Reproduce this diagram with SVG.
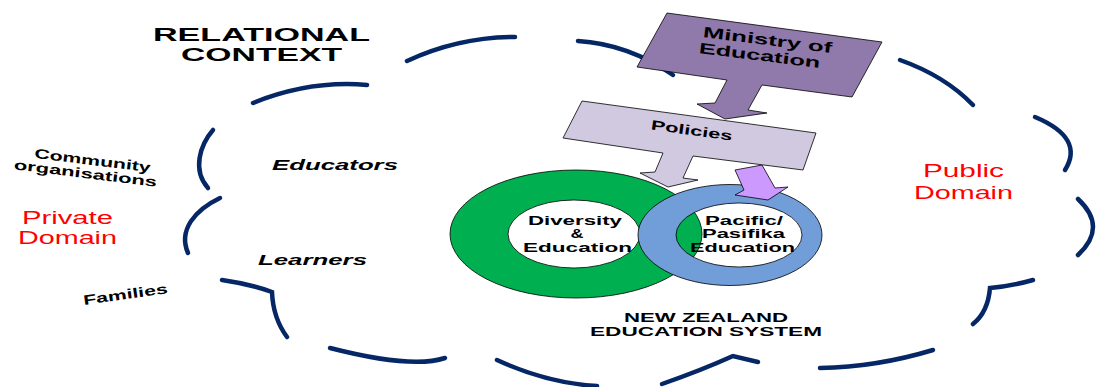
<svg xmlns="http://www.w3.org/2000/svg" width="1103" height="387" viewBox="0 0 1103 387">
<style>
.t{font-family:"Liberation Sans",Arial,sans-serif;font-weight:bold;fill:#000;text-anchor:middle}
.it{font-style:italic}
.red{font-weight:normal;fill:#ff0000}
.cl{fill:none;stroke:#062766;stroke-width:4.5;stroke-linecap:round;stroke-linejoin:miter}
.sh{stroke:#000;stroke-width:0.8}
</style>
<rect width="1103" height="387" fill="#fff"/>
<g id="cloud">
<path class="cl" d="M253,103 Q310,80 367,85"/>
<path class="cl" d="M407,61 Q459,37 515,37"/>
<path class="cl" d="M578,41 Q628,44 673,75"/>
<path class="cl" d="M900,60 Q945,76 973,105"/>
<path class="cl" d="M1035,117 Q1085,138 1065,170"/>
<path class="cl" d="M1078,199 Q1108,227 1078,255"/>
<path class="cl" d="M1033,280 Q1012,286 990,288 Q988,312 973,324"/>
<path class="cl" d="M933,350 Q877,367 820,368"/>
<path class="cl" d="M758,362 L733,356 Q702,370 662,384"/>
<path class="cl" d="M597,386 Q547,383 497,360"/>
<path class="cl" d="M445,358 Q412,369 330,348"/>
<path class="cl" d="M222,280 Q250,284 272,292 Q273,318 287,337"/>
<path class="cl" d="M220,198 C195,210 178,230 188,253"/>
<path class="cl" d="M213,130 C200,145 192,170 208,188"/>
</g>
<g id="title">
<text class="t" x="261.5" y="41" font-size="19" textLength="217" lengthAdjust="spacingAndGlyphs">RELATIONAL</text>
<text class="t" x="261.5" y="61" font-size="19" textLength="161" lengthAdjust="spacingAndGlyphs">CONTEXT</text>
</g>
<g id="educators"><text class="t it" x="335" y="170" font-size="14.5" textLength="126" lengthAdjust="spacingAndGlyphs">Educators</text></g>
<g id="learners"><text class="t it" x="312.5" y="265" font-size="14.5" textLength="109" lengthAdjust="spacingAndGlyphs">Learners</text></g>
<g id="private-domain">
<text class="t red" x="67.5" y="224" font-size="17.5" textLength="91" lengthAdjust="spacingAndGlyphs">Private</text>
<text class="t red" x="67.5" y="244" font-size="17.5" textLength="99" lengthAdjust="spacingAndGlyphs">Domain</text>
</g>
<g id="public-domain">
<text class="t red" x="963.5" y="177" font-size="17.5" textLength="81" lengthAdjust="spacingAndGlyphs">Public</text>
<text class="t red" x="963.5" y="199" font-size="17.5" textLength="99" lengthAdjust="spacingAndGlyphs">Domain</text>
</g>
<g id="community">
<text class="t" transform="translate(92,165) rotate(7)" font-size="13.5" textLength="117" lengthAdjust="spacingAndGlyphs">Community</text>
<text class="t" transform="translate(85,178) rotate(7)" font-size="13.5" textLength="144" lengthAdjust="spacingAndGlyphs">organisations</text>
</g>
<g id="families"><text class="t" transform="translate(126,299) rotate(-8)" font-size="13.5" textLength="85" lengthAdjust="spacingAndGlyphs">Families</text></g>
<g id="nz-system">
<text class="t" x="706" y="322" font-size="12.5" textLength="164" lengthAdjust="spacingAndGlyphs">NEW ZEALAND</text>
<text class="t" x="706" y="336" font-size="12.5" textLength="232" lengthAdjust="spacingAndGlyphs">EDUCATION SYSTEM</text>
</g>
<g id="diversity">
<path class="sh" fill="#00b050" fill-rule="evenodd" d="M450,234 A126,64 0 1 0 702,234 A126,64 0 1 0 450,234 Z M508,234 A66,34 0 1 1 640,234 A66,34 0 1 1 508,234 Z"/>
<text class="t" x="575" y="225" font-size="13" textLength="94" lengthAdjust="spacingAndGlyphs">Diversity</text>
<text class="t" x="577" y="238" font-size="13" textLength="13" lengthAdjust="spacingAndGlyphs">&amp;</text>
<text class="t" x="577.5" y="252" font-size="13" textLength="109" lengthAdjust="spacingAndGlyphs">Education</text>
</g>
<g id="pacific">
<path class="sh" fill="#719dd9" fill-rule="evenodd" d="M638,235 A92,50.5 0 1 0 822,235 A92,50.5 0 1 0 638,235 Z M676,235 A63,32 0 1 1 802,235 A63,32 0 1 1 676,235 Z"/>
<text class="t" x="744" y="225" font-size="13" textLength="78" lengthAdjust="spacingAndGlyphs">Pacific/</text>
<text class="t" x="743.5" y="238" font-size="13" textLength="83" lengthAdjust="spacingAndGlyphs">Pasifika</text>
<text class="t" x="742.5" y="252" font-size="13" textLength="105" lengthAdjust="spacingAndGlyphs">Education</text>
</g>
<g id="arrow-pacific">
<polygon class="sh" fill="#cc99ff" points="735,170 762,165 775,188 788,187 768,200 735,195 744,190"/>
</g>
<g id="policies">
<polygon class="sh" fill="#d0c9e0" points="582,101 816,133 803,170 693,156 683,178 698,180 668,187 640,173 655,172 663,153 563,138"/>
<text class="t" transform="translate(691,135) rotate(8)" font-size="13.5" textLength="82" lengthAdjust="spacingAndGlyphs">Policies</text>
</g>
<g id="ministry">
<polygon class="sh" fill="#9079ab" points="667,13 882,42 852,97 762,85 748,110 767,113 725,119 697,104 715,103 727,80 637,67"/>
<text class="t" transform="translate(767,45) rotate(7)" font-size="15" textLength="130" lengthAdjust="spacingAndGlyphs">Ministry of</text>
<text class="t" transform="translate(759,60.5) rotate(7)" font-size="15" textLength="122" lengthAdjust="spacingAndGlyphs">Education</text>
</g>
</svg>
